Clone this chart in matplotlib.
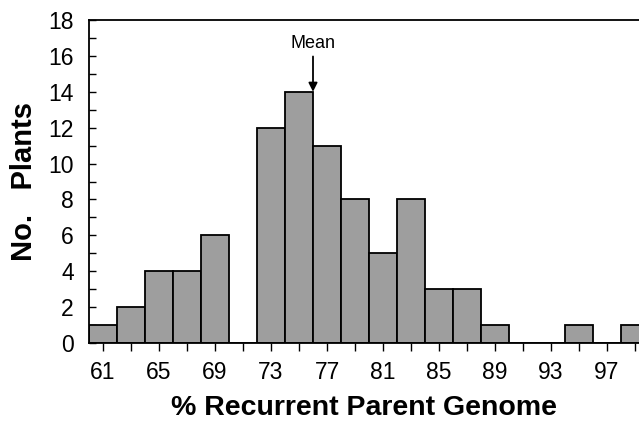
import matplotlib
matplotlib.use("Agg")
import matplotlib.pyplot as plt
import numpy as np

bin_centers = [61, 63, 65, 67, 69, 71, 73, 75, 77, 79, 81, 83, 85, 87, 89, 91, 93, 95, 97, 99]
counts = [1, 2, 4, 4, 6, 0, 12, 14, 11, 8, 5, 8, 3, 3, 1, 0, 0, 1, 0, 1]
xtick_labels = [61, 65, 69, 73, 77, 81, 85, 89, 93, 97]
mean_value = 76
mean_count = 14

plt.rcParams['font.family'] = ['Liberation Sans', 'DejaVu Sans']

fig = plt.figure(figsize=(6.39, 4.21), dpi=100)
ax = fig.add_axes([89/639, 1-343/421, 1-89/639, (343-20)/421])

ax.bar(bin_centers, counts, width=2, color='#9e9e9e', edgecolor='black', linewidth=1.3, zorder=2)

ax.set_xlim(60, 60 + (639-89)/14)
ax.set_ylim(0, 18)
ax.set_xticks(xtick_labels)
ax.set_xticklabels([str(v) for v in xtick_labels], fontsize=16.5)
ax.set_xticks(np.arange(63, 100, 4), minor=True)
ax.set_yticks(np.arange(0, 19, 2))
ax.set_yticklabels([str(v) for v in range(0, 19, 2)], fontsize=16.5)
ax.set_yticks(np.arange(1, 18, 2), minor=True)
ax.tick_params(axis='x', which='both', direction='out', length=6, width=1, pad=7)
ax.tick_params(axis='y', which='both', direction='in', length=5, width=1, pad=11)
ax.spines['right'].set_visible(False)
for s in ['left', 'bottom', 'top']:
    ax.spines[s].set_linewidth(1.3)

ax.set_xlabel('% Recurrent Parent Genome', fontsize=20.5, fontweight='bold', labelpad=8)
ax.set_ylabel('No.   Plants', fontsize=21, fontweight='bold', labelpad=7)

ax.annotate('Mean', xy=(mean_value, mean_count), xytext=(mean_value, 16.2),
            ha='center', va='bottom', fontsize=13,
            arrowprops=dict(arrowstyle='-|>', color='black', lw=1.3, mutation_scale=13,
                            shrinkA=1, shrinkB=0))

fig.savefig('out.png', dpi=100)
